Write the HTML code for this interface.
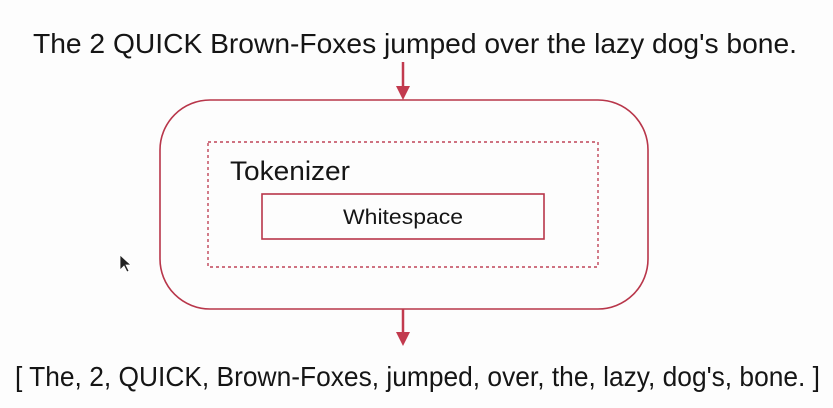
<!DOCTYPE html>
<html><head><meta charset="utf-8"><style>html,body{margin:0;padding:0;background:#fdfdfd;}svg{display:block}</style></head>
<body>
<svg width="833" height="408" viewBox="0 0 833 408" xmlns="http://www.w3.org/2000/svg">
<rect width="833" height="408" fill="#fdfdfd"/>
<text x="33" y="53" font-family="Liberation Sans, sans-serif" font-size="28" fill="#151515" textLength="764" lengthAdjust="spacingAndGlyphs">The 2 QUICK Brown-Foxes jumped over the lazy dog's bone.</text>
<line x1="403" y1="62" x2="403" y2="88" stroke="#c23a4e" stroke-width="2.5"/>
<polygon points="396,86 410,86 403,100" fill="#c23a4e"/>
<rect x="160" y="100" width="488" height="209" rx="50" ry="50" fill="none" stroke="#b8364a" stroke-width="1.6"/>
<rect x="208" y="142" width="390" height="125" fill="none" stroke="#c04558" stroke-width="1.4" stroke-dasharray="3,3"/>
<text x="230" y="180" font-family="Liberation Sans, sans-serif" font-size="27" fill="#151515" textLength="120" lengthAdjust="spacingAndGlyphs">Tokenizer</text>
<rect x="262" y="194" width="282" height="45" fill="none" stroke="#b8364a" stroke-width="1.6"/>
<text x="403" y="224" text-anchor="middle" font-family="Liberation Sans, sans-serif" font-size="21" fill="#151515" textLength="120" lengthAdjust="spacingAndGlyphs">Whitespace</text>
<line x1="403" y1="309" x2="403" y2="334" stroke="#c23a4e" stroke-width="2.5"/>
<polygon points="396,332 410,332 403,346" fill="#c23a4e"/>
<text x="15" y="386" font-family="Liberation Sans, sans-serif" font-size="28" fill="#151515" textLength="805" lengthAdjust="spacingAndGlyphs">[ The, 2, QUICK, Brown-Foxes, jumped, over, the, lazy, dog's, bone. ]</text>
<polygon points="120,255 120,270 124,266 127,272 129,271 126,265 131,265" fill="#222" stroke="#fff" stroke-width="0.8"/>
</svg>
</body></html>
